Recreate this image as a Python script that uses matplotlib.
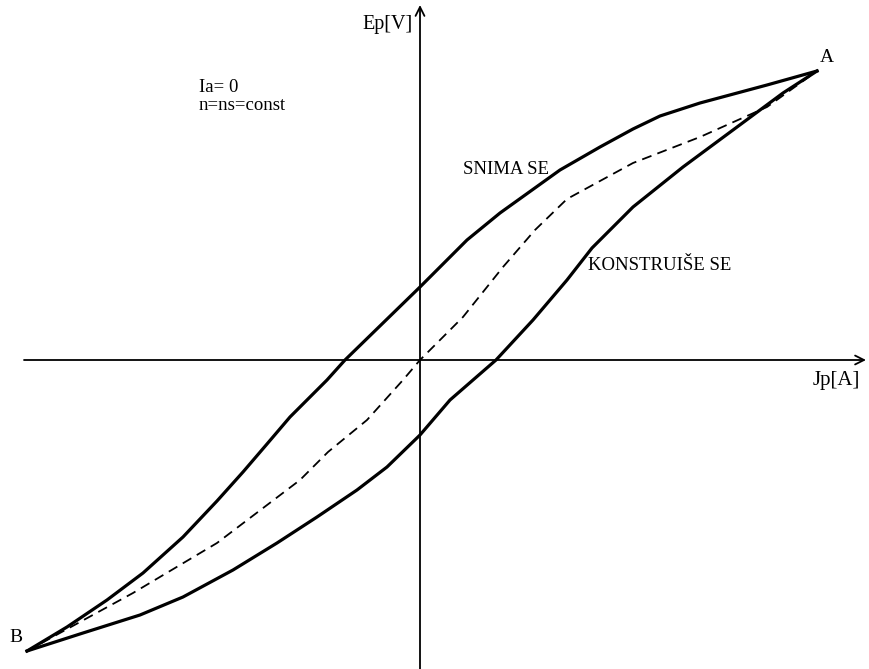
import matplotlib
matplotlib.use("Agg")
import matplotlib.pyplot as plt

# Upper branch (measured, "SNIMA SE"): J_p vs E_p
upper_j = [-393, -353, -313, -277, -237, -203, -177, -153, -130, -93, -75, -37, 0,
           30, 47, 80, 140, 180, 213, 240, 280, 347, 397]
upper_e = [-291, -267, -240, -213, -177, -141, -112, -84, -57, -20, 0, 37, 73,
           103, 120, 147, 190, 213, 231, 244, 257, 275, 289]

# Lower branch (constructed, "KONSTRUIŠE SE")
lower_j = [-393, -337, -280, -237, -187, -143, -103, -63, -33, 0, 30, 76, 113,
           147, 172, 213, 263, 313, 363, 397]
lower_e = [-291, -273, -255, -237, -210, -183, -157, -130, -107, -75, -40, 0, 40,
           80, 112, 153, 193, 230, 267, 289]

# Mean magnetisation curve (dashed)
mean_j = [-393, -287, -203, -120, -92, -53, -17, 0, 43, 83, 115, 147, 213, 280, 347, 397]
mean_e = [-291, -233, -183, -120, -92, -60, -20, 0, 43, 93, 130, 161, 197, 223, 253, 289]

W, H = 869, 669
fig = plt.figure(figsize=(W / 100, H / 100), dpi=100)
ax = fig.add_axes([0, 0, 1, 1])
ax.set_xlim(-420, W - 420)
ax.set_ylim(360 - H, 360)
ax.axis("off")

serif = ["Liberation Serif", "DejaVu Serif"]

# Coordinate axes with arrowheads
ax.annotate("", xy=(446, 0), xytext=(-396, 0),
            arrowprops=dict(arrowstyle="->", lw=1.3, color="black",
                            mutation_scale=16, shrinkA=0, shrinkB=0))
ax.annotate("", xy=(0, 355), xytext=(0, 360 - H),
            arrowprops=dict(arrowstyle="->", lw=1.3, color="black",
                            mutation_scale=16, shrinkA=0, shrinkB=0))

ax.plot(upper_j, upper_e, color="black", lw=2.3, solid_joinstyle="round")
ax.plot(lower_j, lower_e, color="black", lw=2.3, solid_joinstyle="round")
ax.plot(mean_j, mean_e, color="black", lw=1.3, dashes=(5.5, 3.5))

ax.text(-58, 335, "Ep[V]", family=serif, fontsize=14.5, ha="left", va="center")
ax.text(393, -21, "Jp[A]", family=serif, fontsize=15, ha="left", va="center")
ax.text(400, 303, "A", family=serif, fontsize=14, ha="left", va="center")
ax.text(-411, -277, "B", family=serif, fontsize=14, ha="left", va="center")
ax.text(-221, 273, "Ia= 0", family=serif, fontsize=13.5, ha="left", va="center")
ax.text(-221, 254, "n=ns=const", family=serif, fontsize=13.5, ha="left", va="center")
ax.text(43, 191, "SNIMA SE", family=serif, fontsize=13.5, ha="left", va="center")
ax.text(168, 95, "KONSTRUIŠE SE", family=serif, fontsize=13.5, ha="left", va="center")

fig.savefig("out.png", dpi=100, facecolor="white")
